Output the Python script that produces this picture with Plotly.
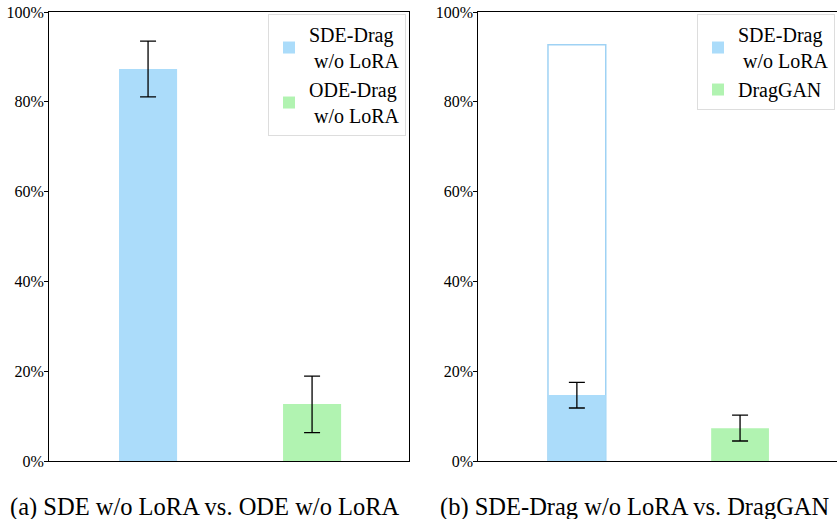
import plotly.graph_objects as go

# ---- data ----
left_labels = ["SDE-Drag<br>&nbsp;w/o LoRA", "ODE-Drag<br>&nbsp;w/o LoRA"]
left_values = [87.3, 12.7]
left_err_plus = [6.2, 6.2]
left_err_minus = [6.2, 6.4]

right_labels = ["SDE-Drag<br>&nbsp;w/o LoRA", "DragGAN"]
right_values = [14.7, 7.3]
right_err_plus = [2.8, 2.9]
right_err_minus = [2.9, 2.85]
right_outline_value = 92.7

captions = ["(a) SDE w/o LoRA vs. ODE w/o LoRA", "(b) SDE-Drag w/o LoRA vs. DragGAN"]
y_ticks = [0, 20, 40, 60, 80, 100]
y_tick_text = ["0%", "20%", "40%", "60%", "80%", "100%"]

BLUE = "#abdcfa"
GREEN = "#b1f3b1"
EDGE = "#9fd2f4"
FONT = "Liberation Serif"
BW = 0.354

fig = go.Figure()

def err(p, m):
    return dict(type="data", symmetric=False, array=[p], arrayminus=[m],
                color="black", thickness=1.3, width=8)

# left panel
for i, (lab, v, p, m, c) in enumerate(zip(left_labels, left_values, left_err_plus, left_err_minus, [BLUE, GREEN])):
    fig.add_trace(go.Bar(x=[i], y=[v], width=BW, name=lab, marker=dict(color=c, line=dict(width=0)),
                         error_y=err(p, m), xaxis="x", yaxis="y", legend="legend"))

# right panel: outline bar first
fig.add_trace(go.Bar(x=[0], y=[right_outline_value], width=BW, showlegend=False,
                     marker=dict(color="rgba(0,0,0,0)", line=dict(color=EDGE, width=1.5)),
                     xaxis="x2", yaxis="y2"))
for i, (lab, v, p, m, c) in enumerate(zip(right_labels, right_values, right_err_plus, right_err_minus, [BLUE, GREEN])):
    fig.add_trace(go.Bar(x=[i], y=[v], width=BW, name=lab, marker=dict(color=c, line=dict(width=0)),
                         error_y=err(p, m), xaxis="x2", yaxis="y2", legend="legend2"))

xa = dict(range=[-0.604, 1.591], showticklabels=False, ticks="", showgrid=False, zeroline=False,
          showline=True, linecolor="black", linewidth=1, mirror=True)
ya = dict(range=[0, 100], tickvals=y_ticks, ticktext=y_tick_text, ticks="outside", ticklen=4,
          tickcolor="black", showgrid=False, zeroline=False, showline=True, linecolor="black",
          linewidth=1, mirror=True, ticklabelstandoff=-3,
          tickfont=dict(family=FONT, size=16, color="black"))

W, H = 837, 519
leg = dict(bgcolor="white", bordercolor="#dddddd", borderwidth=1, xanchor="right", yanchor="top",
           font=dict(family=FONT, size=20, color="black"), tracegroupgap=0)

fig.update_layout(
    width=W, height=H, barmode="overlay",
    margin=dict(l=0, r=0, t=12, b=58),
    paper_bgcolor="white", plot_bgcolor="white",
    font=dict(family=FONT, color="black"),
    xaxis=dict(domain=[49 / W, 409 / W], **xa),
    yaxis=dict(anchor="x", **ya),
    xaxis2=dict(domain=[478.3 / W, 836.5 / W], anchor="y2", **xa),
    yaxis2=dict(anchor="x2", **ya),
    legend=dict(x=406 / W, y=0.9955, **leg),
    legend2=dict(x=835 / W, y=0.9955, **leg),
    annotations=[
        dict(text=captions[0], x=205 / W, y=-0.103, xref="paper", yref="paper", showarrow=False,
             xanchor="center", yanchor="middle", font=dict(family=FONT, size=24.5, color="black")),
        dict(text=captions[1], x=635 / W, y=-0.103, xref="paper", yref="paper", showarrow=False,
             xanchor="center", yanchor="middle", font=dict(family=FONT, size=24.5, color="black")),
    ],
)

fig.write_html("out.html", config={"displayModeBar": False},
               post_script="document.body.style.margin='0';document.body.style.overflow='hidden';")
